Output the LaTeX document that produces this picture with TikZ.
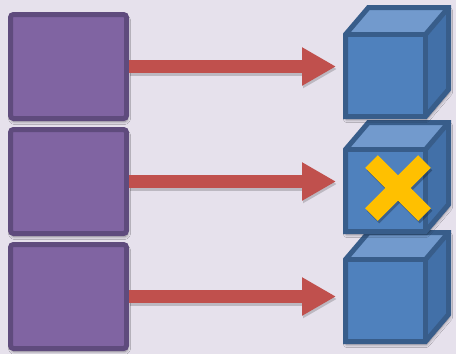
\documentclass[tikz,border=0pt]{standalone}
\usetikzlibrary{arrows.meta,shadows.blur}

\definecolor{bgcolor}{HTML}{E6E1EC}
\definecolor{boxfill}{HTML}{8064A2}
\definecolor{boxedge}{HTML}{5F4B7D}
\definecolor{flowred}{HTML}{C0504D}
\definecolor{cubefront}{HTML}{4F81BD}
\definecolor{cubetop}{HTML}{729ACD}
\definecolor{cubeside}{HTML}{4270A8}
\definecolor{cubeedge}{HTML}{385D8A}
\definecolor{markyellow}{HTML}{FFC000}

\tikzset{
  softshadow/.style={blur shadow={shadow xshift=1pt, shadow yshift=-3pt,
      shadow blur radius=3pt, shadow blur steps=6, shadow opacity=45}},
  srcbox/.style={draw=boxedge, fill=boxfill, line width=5pt, rounded corners=3pt,
      minimum width=116pt, minimum height=104pt, inner sep=0pt, outer sep=2.5pt,
      softshadow},
  cubeface/.style={fill=cubefront, minimum width=80pt, minimum height=82pt,
      inner sep=0pt, outer sep=0pt},
  cubeline/.style={draw=cubeedge, line width=5pt},
  flow/.style={draw=flowred, line width=13pt,
      -{Triangle[length=34pt,width=36pt]}, shorten >=9.5pt},
  flowshadow/.style={draw=black, opacity=0.18, line width=13pt,
      -{Triangle[length=34pt,width=36pt]}, shorten >=9.5pt,
      transform canvas={shift={(1pt,-2.5pt)}}},
  crossbar/.style={draw=markyellow, line width=18pt},
  crossshadow/.style={draw=black, opacity=0.25, line width=18pt,
      transform canvas={shift={(1.5pt,-2.5pt)}}},
}

% a cube whose front face is the node #1, centred at #2
\newcommand\drawcube[2]{%
  \begin{scope}[shift={(#2)}]
    \path[softshadow] (-40,41) -- (-40,-41) -- (-17,-68) -- (63,-68)
        -- (63,14) -- (40,41) -- cycle;
    \node[cubeface] (#1) at (0,0) {};
    \fill[cubetop] (-40,-41) -- (-17,-68) -- (63,-68) -- (40,-41) -- cycle;
    \fill[cubeside] (40,-41) -- (63,-68) -- (63,14) -- (40,41) -- cycle;
    \draw[cubeline] (-40,41) -- (-40,-41) -- (-17,-68) -- (63,-68)
        -- (63,14) -- (40,41) -- cycle;
    \draw[cubeline] (-40,-41) -- (40,-41) -- (40,41);
    \draw[cubeline] (40,-41) -- (63,-68);
  \end{scope}}

\begin{document}
\begin{tikzpicture}[x=1pt,y=-1pt]
  \fill[bgcolor] (0,0) rectangle (456,354);
  \useasboundingbox (0,0) rectangle (456,354);

  % source boxes
  \node[srcbox] (s1) at (68.5,66.5) {};
  \node[srcbox] (s2) at (68.5,181.5) {};
  \node[srcbox] (s3) at (68.5,296.5) {};

  % target cubes, lowest first so the upper ones overlap it
  \drawcube{c3}{385.5,300.5}
  \drawcube{c2}{385.5,190.5}
  \drawcube{c1}{385.5,75.5}

  % cross on the middle cube
  \coordinate (mark) at (398,188);
  \draw[crossshadow] ([shift={(-26.5,-26.5)}]mark) -- ([shift={(26.5,26.5)}]mark);
  \draw[crossshadow] ([shift={(26.5,-26.5)}]mark) -- ([shift={(-26.5,26.5)}]mark);
  \draw[crossbar] ([shift={(-26.5,-26.5)}]mark) -- ([shift={(26.5,26.5)}]mark);
  \draw[crossbar] ([shift={(26.5,-26.5)}]mark) -- ([shift={(-26.5,26.5)}]mark);

  % arrows from each box to its cube
  \foreach \i in {1,2,3} {
    \draw[flowshadow] (s\i.east) -- (s\i.east -| c\i.west);
    \draw[flow] (s\i.east) -- (s\i.east -| c\i.west);
  }
\end{tikzpicture}
\end{document}
